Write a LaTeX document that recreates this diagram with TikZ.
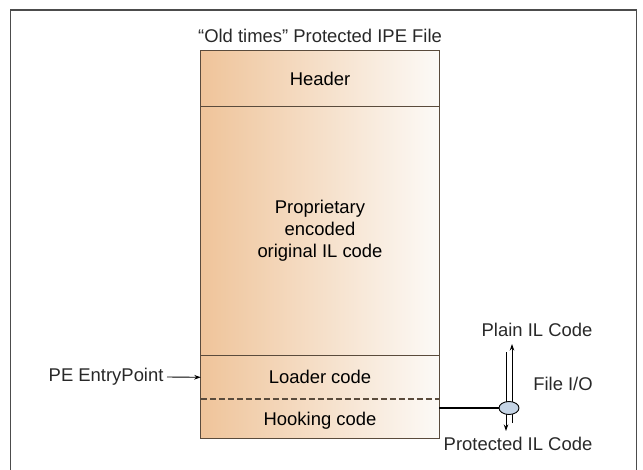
\documentclass[tikz,border=0pt]{standalone}
\usepackage{fontspec}
\setmainfont{Liberation Sans}
\usetikzlibrary{arrows.meta,positioning,shapes.geometric}

\definecolor{fileorange}{RGB}{239,196,154}
\definecolor{filewhite}{RGB}{252,250,247}
\definecolor{ioblue}{RGB}{197,212,229}
\definecolor{fileedge}{RGB}{90,75,60}
\definecolor{filetext}{RGB}{40,40,40}

\begin{document}
\begin{tikzpicture}[x=1bp,y=-1bp,font=\fontsize{18.5}{22}\selectfont,
    every node/.append style={text=filetext},
    >={Stealth[length=6.5bp,width=4.5bp]}]
      \useasboundingbox (0,0) rectangle (643,470);
      % frame, open at the bottom
      \draw[line width=1.5bp, black!70] (10.5,470) -- (10.5,10) -- (636.5,10) -- (636.5,470);

      \node (title) at (320,36) {``Old times'' Protected IPE File};

      \begin{scope}[every node/.style={minimum width=238bp, inner sep=0pt,
          left color=fileorange, right color=filewhite, align=center}]
        \node (header) [minimum height=55bp] at (320,78.5) {Header};
        \node (body) [minimum height=249bp, below=0pt of header] {Proprietary\\encoded\\original IL code};
        \node (loader) [minimum height=43bp, below=0pt of body] {Loader code};
        \node (hook) [minimum height=39bp, below=0pt of loader, text depth=0pt] {Hooking code};
      \end{scope}

      \begin{scope}[line width=1.1bp, fileedge]
        \draw (header.north west) rectangle (hook.south east);
        \draw (header.south west) -- (header.south east);
        \draw (body.south west) -- (body.south east);
        \draw[dashed, dash pattern=on 6bp off 3bp] (loader.south west) -- (loader.south east);
      \end{scope}

      \node (entry) [anchor=east] at (167,377) {PE EntryPoint};
      \draw[->, line width=0.9bp] (entry.east) -- (loader.west);

      % file i/o
      \node (plain) at (537,330) {Plain IL Code};
      \node (prot) at (518,444) {Protected IL Code};
      \node (fileio) at (563,384) {File I/O};
      \coordinate (inTop) at (506,352);
      \coordinate (inBot) at (506,431);
      \coordinate (outTop) at (512,344);
      \coordinate (outBot) at (512,423);
      \draw[->, line width=0.9bp] (inTop) -- (inBot);
      \draw[->, line width=0.9bp] (outBot) -- (outTop);
      \node (io) [ellipse, draw, line width=0.9bp, fill=ioblue, minimum width=20bp,
        minimum height=13bp, inner sep=0pt] at (509,408) {};
      \draw[line width=1.1bp] (io.west) -- (io.west -| hook.east);
\end{tikzpicture}
\end{document}
